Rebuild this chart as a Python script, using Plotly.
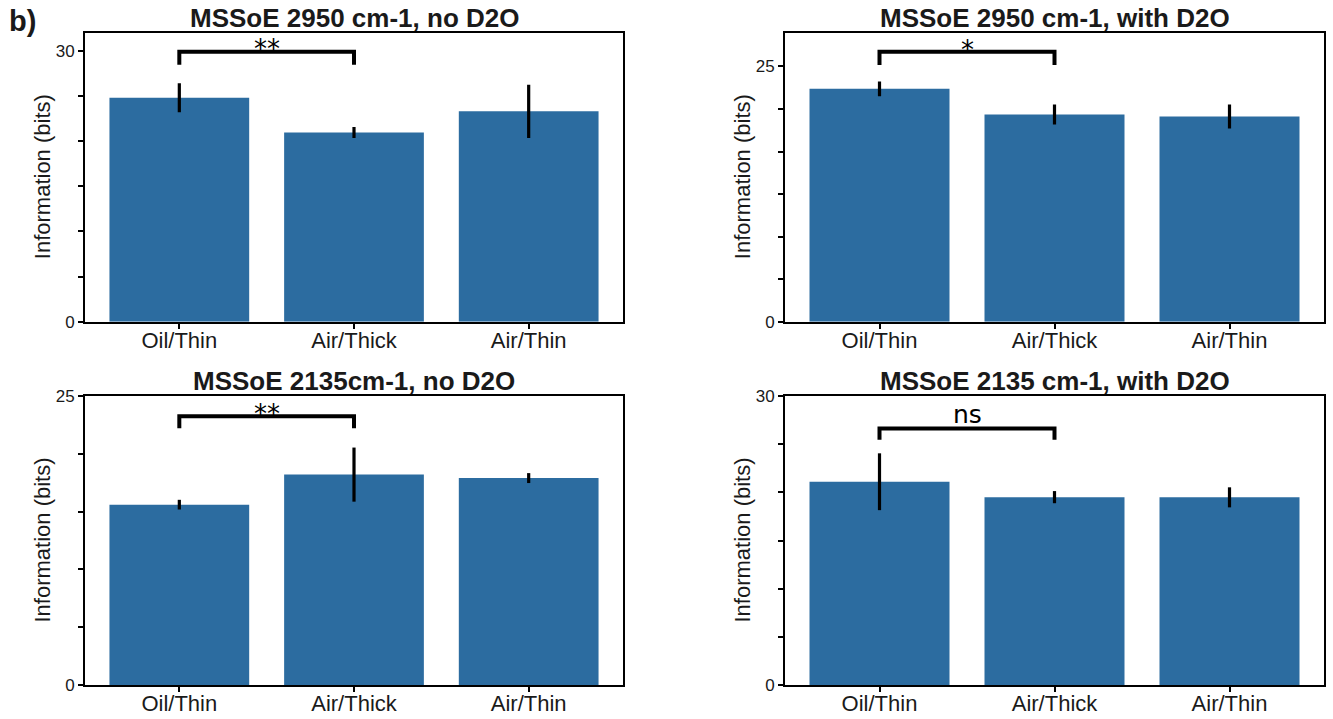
import plotly.graph_objects as go

categories = ["Oil/Thin", "Air/Thick", "Air/Thin"]

titles = [
    "MSSoE 2950 cm-1, no D2O",
    "MSSoE 2950 cm-1, with D2O",
    "MSSoE 2135cm-1, no D2O",
    "MSSoE 2135 cm-1, with D2O",
]

means_2950_noD2O = [24.8, 20.95, 23.3]
errs_2950_noD2O = [1.6, 0.6, 2.95]

means_2950_D2O = [22.8, 20.3, 20.1]
errs_2950_D2O = [0.72, 0.98, 1.17]

means_2135_noD2O = [15.6, 18.2, 17.9]
errs_2135_noD2O = [0.42, 2.34, 0.43]

means_2135_D2O = [21.1, 19.5, 19.48]
errs_2135_D2O = [2.95, 0.63, 1.04]

y_max = [32.0, 28.3, 25.0, 30.0]
y_ticks = [
    [0, 5, 10, 15, 20, 25, 30],
    [0, 25 / 6, 50 / 6, 12.5, 100 / 6, 125 / 6, 25],
    [0, 5, 10, 15, 20, 25],
    [0, 5, 10, 15, 20, 25, 30],
]
y_ticklabels = [
    ["0", "", "", "", "", "", "30"],
    ["0", "", "", "", "", "", "25"],
    ["0", "", "", "", "", "25"],
    ["0", "", "", "", "", "", "30"],
]

sig_labels = ["**", "*", "**", "ns"]
bracket_top = [29.9, 26.44, 23.24, 26.63]
bracket_leg = [28.45, 25.13, 22.2, 25.45]
sig_y = [30.15, 26.6, 23.44, 28.1]

all_means = [means_2950_noD2O, means_2950_D2O, means_2135_noD2O, means_2135_D2O]
all_errs = [errs_2950_noD2O, errs_2950_D2O, errs_2135_noD2O, errs_2135_D2O]

W, H = 1333, 719
# panel pixel boxes (left, right, top, bottom)
boxes = [
    (85, 623, 32.7, 321.7),
    (785, 1324, 32.7, 321.7),
    (85, 623, 396, 685),
    (785, 1324, 396, 685),
]

BAR_COLOR = "#2c6ca0"
FONT = "Liberation Sans, Arial, Helvetica, sans-serif"

fig = go.Figure()
x_pos = [0, 1, 2]

for i in range(4):
    ax = "" if i == 0 else str(i + 1)
    xref = "x" + ax
    yref = "y" + ax
    fig.add_trace(go.Bar(
        x=x_pos, y=all_means[i], width=0.8,
        marker=dict(color=BAR_COLOR, line=dict(width=0)),
        error_y=dict(type="data", array=all_errs[i], color="black", thickness=3.2, width=0),
        xaxis=xref, yaxis=yref, showlegend=False,
    ))
    # significance bracket
    fig.add_trace(go.Scatter(
        x=[0, 0, 1, 1],
        y=[bracket_leg[i], bracket_top[i], bracket_top[i], bracket_leg[i]],
        mode="lines", line=dict(color="black", width=4),
        xaxis=xref, yaxis=yref, showlegend=False, hoverinfo="skip",
    ))
    fig.add_annotation(
        x=0.5, y=sig_y[i], xref=xref, yref=yref, text=sig_labels[i],
        showarrow=False, font=dict(family="DejaVu Sans", size=26 if sig_labels[i] != "ns" else 25, color="black"),
        xanchor="center", yanchor="middle",
    )
    l, r, t, b = boxes[i]
    xdom = [l / W, r / W]
    ydom = [(H - b) / H, (H - t) / H]
    fig.layout["xaxis" + ax] = dict(
        domain=xdom, range=[-0.54, 2.54], anchor=yref, automargin=False,
        tickvals=x_pos, ticktext=categories, ticklabelstandoff=-7,
        ticks="outside", ticklen=5, tickwidth=1.5, tickcolor="black",
        showline=True, linecolor="black", linewidth=2, mirror=True,
        showgrid=False, zeroline=False,
        tickfont=dict(family=FONT, size=22, color="#1a1a1a"),
    )
    fig.layout["yaxis" + ax] = dict(
        domain=ydom, range=[0, y_max[i]], anchor=xref, automargin=False,
        tickvals=y_ticks[i], ticktext=y_ticklabels[i],
        ticks="outside", ticklen=5, tickwidth=1.5, tickcolor="black",
        showline=True, linecolor="black", linewidth=2, mirror=True,
        showgrid=False, zeroline=False,
        tickfont=dict(family=FONT, size=17, color="#1a1a1a"),
    )
    # subplot title
    fig.add_annotation(
        x=(l + r) / 2 / W, y=(H - (t - 15)) / H, xref="paper", yref="paper",
        text="<b>" + titles[i] + "</b>", showarrow=False,
        font=dict(family=FONT, size=26, color="#1a1a1a"),
        xanchor="center", yanchor="middle",
    )
    # y-axis title
    fig.add_annotation(
        x=(l - 43) / W, y=(H - (t + b) / 2) / H, xref="paper", yref="paper",
        text="Information (bits)", textangle=-90, showarrow=False,
        font=dict(family=FONT, size=22, color="#1a1a1a"),
        xanchor="center", yanchor="middle",
    )

fig.add_annotation(
    x=7 / W, y=(H - 3) / H, xref="paper", yref="paper", text="<b>b)</b>",
    showarrow=False, xanchor="left", yanchor="top",
    font=dict(family=FONT, size=29, color="#1a1a1a"),
)

fig.update_layout(
    template="none",
    width=W, height=H, margin=dict(l=0, r=0, t=0, b=0, pad=0, autoexpand=False),
    paper_bgcolor="white", plot_bgcolor="white",
    bargap=0.2, showlegend=False,
)

fig.write_html("out.html")
